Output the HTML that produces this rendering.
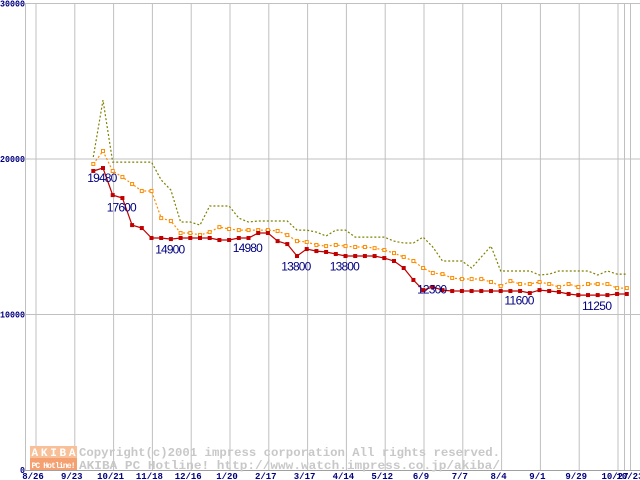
<!DOCTYPE html>
<html><head><meta charset="utf-8"><style>
body{margin:0;background:#fff;width:640px;height:480px;overflow:hidden}
svg{display:block;font-family:"Liberation Mono",monospace}
</style></head><body>
<svg id="chart" width="640" height="480" xmlns="http://www.w3.org/2000/svg">
<g id="grid"></g>
<g id="wm">
<rect x="30" y="446" width="47" height="12" fill="#f8c098"/>
<rect x="30" y="458" width="47" height="12" fill="#f4a070"/>
<text x="53.5" y="456" font-size="11" fill="#fff" text-anchor="middle" font-weight="bold" textLength="44">AKIBA</text>
<text x="53.5" y="468" font-size="8" fill="#fff" text-anchor="middle" font-weight="bold" textLength="44">PC Hotline!</text>
<text x="79" y="456" font-size="12" fill="#c8c8c8" font-weight="bold" textLength="421" lengthAdjust="spacingAndGlyphs">Copyright(c)2001 impress corporation All rights reserved.</text>
<text x="79" y="469" font-size="12" fill="#c8c8c8" font-weight="bold" textLength="421" lengthAdjust="spacingAndGlyphs">AKIBA PC Hotline!  http://www.watch.impress.co.jp/akiba/</text>
</g>
<g id="series"></g>
<g id="labels"></g>
</svg>
<script>
const maxVals=[20130,23790,19800,19800,19800,19800,19800,18650,18000,15950,15950,15750,16980,16980,16980,16200,15950,16010,16010,16010,16010,15430,15430,15300,15050,15430,15430,14980,14980,14980,14980,14720,14600,14600,14980,14340,13440,13440,13440,12990,13700,14400,12800,12800,12800,12800,12540,12600,12800,12800,12800,12800,12540,12800,12600,12600];
const avgVals=[19680,20510,19230,18840,18390,17940,17940,16200,16010,15240,15240,15110,15300,15620,15500,15430,15430,15430,15430,15370,15110,14720,14660,14470,14400,14470,14400,14340,14340,14270,14150,13950,13700,13440,12990,12670,12600,12350,12280,12280,12280,12090,11830,12150,11960,11960,12090,11960,11770,11960,11770,11960,11960,11960,11700,11700];
const minVals=[19230,19420,17680,17490,15750,15560,14920,14920,14850,14920,14920,14920,14920,14790,14790,14920,14920,15240,15240,14720,14530,13760,14210,14080,14020,13890,13760,13760,13760,13760,13630,13440,12990,12220,11570,11770,11570,11510,11510,11510,11510,11510,11510,11510,11510,11380,11570,11510,11450,11320,11250,11250,11250,11250,11320,11320];
const xTicks=["8/26","9/23","10/21","11/18","12/16","1/20","2/17","3/17","4/14","5/12","6/9","7/7","8/4","9/1","9/29","10/27"];
const yTicks=[0,10000,20000,30000];
const labelIdx=[0,2,7,15,20,25,34,43,51];
const labelVals=[19480,17600,14900,14980,13800,13800,12300,11600,11250];
const NS="http://www.w3.org/2000/svg";
const y=v=>470-v*0.01555;
const xi=i=>93.3+i*9.7;
function mk(tag,attrs,parent){const e=document.createElementNS(NS,tag);for(const k in attrs)e.setAttribute(k,attrs[k]);parent.appendChild(e);return e;}
const grid=document.getElementById('grid'),ser=document.getElementById('series'),lab=document.getElementById('labels');
yTicks.forEach(t=>{
  if(t>0){const l=mk('line',{x1:25,x2:640,y1:y(t),y2:y(t),stroke:'#c0c0c0','stroke-width':1},grid);
  
  }
  const s=String(t);
  const tx=mk('text',{x:25-s.length*5,y:y(t)+3,'font-size':9,fill:'#000080','font-weight':'bold',textLength:s.length*5,lengthAdjust:'spacingAndGlyphs'},grid);
  tx.textContent=s;
  
  
});
const ax=mk('line',{x1:25.5,x2:25.5,y1:4,y2:470,stroke:'#c0c0c0','stroke-width':1},grid);


const bx=mk('line',{x1:25,x2:640,y1:470.5,y2:470.5,stroke:'#a0a0a0','stroke-width':1},grid);


xTicks.forEach((t,k)=>{
  const gx=36+k*38.8;
  const l=mk('line',{x1:gx,x2:gx,y1:4,y2:470,stroke:'#c0c0c0','stroke-width':1},grid);
  
  
  const tx=mk('text',{x:gx-3,y:479,'font-size':9,fill:'#000080','font-weight':'bold','text-anchor':'middle'},grid);
  tx.textContent=t;
  
  
});
[624.5,630.5].forEach(gx=>{const l=mk('line',{x1:gx,x2:gx,y1:4,y2:470,stroke:'#c0c0c0','stroke-width':1},grid);
  
  });
const tx2=mk('text',{x:630,y:479,'font-size':9,fill:'#000080','font-weight':'bold','text-anchor':'middle'},grid);
tx2.textContent="10/23";


function pts(a){return a.map((v,i)=>xi(i).toFixed(1)+','+y(v).toFixed(1)).join(' ');}
const pm=mk('polyline',{points:pts(maxVals),fill:'none',stroke:'#808000','stroke-width':1.2,'stroke-dasharray':'2,2'},ser);


const pa=mk('polyline',{points:pts(avgVals),fill:'none',stroke:'#ff8c00','stroke-width':1.2,'stroke-dasharray':'2,2'},ser);


avgVals.forEach((v,i)=>{const r=mk('rect',{x:xi(i)-1.5,y:y(v)-1.5,width:3,height:3,fill:'#fff',stroke:'#ff8c00','stroke-width':1},ser);
  
  });
const pn=mk('polyline',{points:pts(minVals),fill:'none',stroke:'#c00000','stroke-width':1.2},ser);


minVals.forEach((v,i)=>{const r=mk('rect',{x:xi(i)-2,y:y(v)-2,width:4,height:4,fill:'#c00000'},ser);
  
  });
labelIdx.forEach((idx,k)=>{
  const t=mk('text',{x:xi(idx)-6,y:y(labelVals[k])+15,'font-size':12,fill:'#000080',textLength:30,'font-family':'Liberation Sans, sans-serif'},lab);
  t.textContent=String(labelVals[k]);
  
  
});
</script>
</body></html>
